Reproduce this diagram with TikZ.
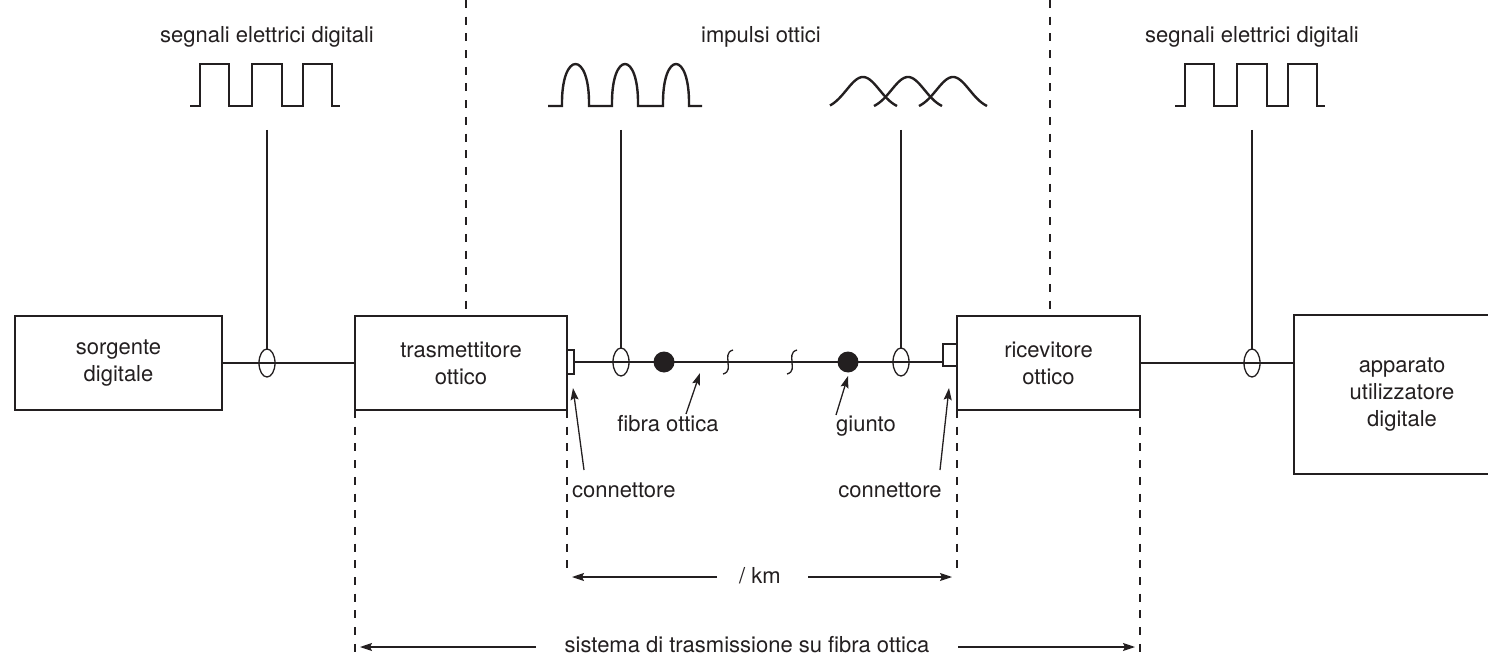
\documentclass[tikz,border=0pt]{standalone}
\usepackage{fontspec}
\setmainfont{TeX Gyre Heros}
\usetikzlibrary{shapes.geometric,arrows.meta}
\definecolor{ink}{HTML}{231F20}
\begin{document}
\begin{tikzpicture}[x=1pt,y=-1pt,
  every node/.style={font=\fontsize{22}{27}\selectfont, text=ink},
  blk/.style={draw=ink, line width=1.3pt, align=center, inner sep=0pt, outer sep=0pt},
  wire/.style={draw=ink, line width=1.3pt},
  wave/.style={draw=ink, line width=2.4pt, line join=miter},
  guide/.style={draw=ink, line width=1.2pt, dash pattern=on 8pt off 8.7pt},
  tap/.style={ellipse, draw=ink, line width=1.3pt, minimum width=16pt, minimum height=28pt, inner sep=0pt, outer sep=0pt},
  joint/.style={circle, fill=ink, minimum size=21pt, inner sep=0pt, outer sep=0pt},
  plug/.style={rectangle, draw=ink, line width=1.2pt, inner sep=0pt, outer sep=0pt},
  pointer/.style={draw=ink, line width=1.3pt, -{Stealth[length=12pt,width=8pt,inset=2pt]}},
  lbl/.style={inner sep=0pt, anchor=base},
  brk/.style={draw=ink, line width=1.3pt}
]
\useasboundingbox (0,0) rectangle (1488,655);
\clip (0,0) rectangle (1488,655);

% blocks of the chain
\node[blk, minimum width=207pt, minimum height=94pt] (src) at (118.5,363) {sorgente\\digitale};
\node[blk, minimum width=212pt, minimum height=94pt] (tx) at (461,363) {trasmettitore\\ottico};
\node[blk, minimum width=183pt, minimum height=94pt] (rx) at (1048.5,363) {ricevitore\\ottico};
\node[blk, minimum width=216pt, minimum height=159pt] (usr) at (1402,394.5) {apparato\\utilizzatore\\digitale};

% connectors at the fibre ends
\node[plug, minimum width=7pt, minimum height=24pt] (p1) at (570.5,362) {};
\node[plug, minimum width=14pt, minimum height=22pt] (p2) at (950,355) {};

% electrical links
\draw[wire] (src.east) -- (tx.west);
\draw[wire] (rx.east |- 0,363) -- (usr.west |- 0,363);

% fibre
\draw[wire] (p1.east) -- (p1.east -| p2.west);

% signal probes
\node[tap] (t1) at (267,363) {};
\node[tap] (t2) at (621,362) {};
\node[tap] (t3) at (901,362) {};
\node[tap] (t4) at (1252,363) {};
\coordinate (w1) at (267,130);
\coordinate (w2) at (621,130);
\coordinate (w3) at (901,130);
\coordinate (w4) at (1252,130);
\draw[wire] (w1) -- (t1.north);
\draw[wire] (w2) -- (t2.north);
\draw[wire] (w3) -- (t3.north);
\draw[wire] (w4) -- (t4.north);

% splices
\node[joint] (j1) at (664,362) {};
\node[joint] (j2) at (848,362) {};

% breaks in the fibre
\draw[brk] (733,350) .. controls (726,352) and (728,358) .. (728,362) .. controls (728,367) and (730,372) .. (723,374);
\draw[brk] (797,350) .. controls (790,352) and (792,358) .. (792,362) .. controls (792,367) and (794,372) .. (787,374);

% digital electrical signals
\draw[wave] (190,106) -- (200,106) -- (200,64) -- (229,64) -- (229,106) -- (252,106) -- (252,64) -- (282,64) -- (282,106) -- (303,106) -- (303,64) -- (332,64) -- (332,106) -- (340,106);
\begin{scope}[xshift=985pt]
\draw[wave] (190,106) -- (200,106) -- (200,64) -- (229,64) -- (229,106) -- (252,106) -- (252,64) -- (282,64) -- (282,106) -- (303,106) -- (303,64) -- (332,64) -- (332,106) -- (340,106);
\end{scope}

% optical pulses at the transmitter
\draw[wave] (548,106) -- (562,106) .. controls (561,50) and (590,50) .. (589,106) -- (612,106) .. controls (611,50) and (639,50) .. (638,106) -- (663,106) .. controls (662,50) and (690,50) .. (689,106) -- (702,106);

% dispersed pulses at the receiver
\draw[wave, line join=round] plot[domain=830:897, samples=40] (\x, {110-33*exp(-((\x-863)/23.4)^2)});
\draw[wave, line join=round] plot[domain=874:942, samples=40] (\x, {110-33*exp(-((\x-908)/23.4)^2)});
\draw[wave, line join=round] plot[domain=919:987, samples=40] (\x, {110-33*exp(-((\x-953)/23.4)^2)});

% section boundaries
\coordinate (d1) at (466,0);
\coordinate (d2) at (1050,0);
\draw[guide] (d1) -- (d1 |- tx.north);
\draw[guide] (d2) -- (d2 |- rx.north);
\coordinate (e1) at (567,570);
\coordinate (e2) at (957,570);
\coordinate (e3) at (355,655);
\coordinate (e4) at (1140,655);
\draw[guide] (tx.south east) -- (e1);
\draw[guide] (rx.south west) -- (e2);
\draw[guide] (tx.south west) -- (e3);
\draw[guide] (rx.south east) -- (e4);

% top captions
\node[lbl] (c1) at (267,43) {segnali elettrici digitali};
\node[lbl] (c2) at (761,43) {impulsi ottici};
\node[lbl] (c3) at (1252,43) {segnali elettrici digitali};

% part captions with pointers
\node[lbl] (fo) at (668,431) {fibra ottica};
\node[lbl] (gi) at (866,431) {giunto};
\node[lbl, anchor=base west] (k1) at (572,497) {connettore};
\node[lbl] (k2) at (890,497) {connettore};
\coordinate (fa) at (686,414);
\coordinate (fb) at (700,373);
\coordinate (ga) at (836,415);
\coordinate (gb) at (848,376);
\coordinate (ka) at (584,470);
\coordinate (kb) at (573,388);
\coordinate (la) at (940,470);
\coordinate (lb) at (949,388);
\draw[pointer] (fa) -- (fb);
\draw[pointer] (ga) -- (gb);
\draw[pointer] (ka) -- (kb);
\draw[pointer] (la) -- (lb);

% spans
\node[lbl] (km) at (760,583) {/ km};
\coordinate (m1) at (717,577);
\coordinate (m2) at (572,577);
\coordinate (m3) at (808,577);
\coordinate (m4) at (952,577);
\draw[pointer] (m1) -- (m2);
\draw[pointer] (m3) -- (m4);

\node[lbl] (sys) at (747,652) {sistema di trasmissione su fibra ottica};
\coordinate (s1) at (536,647);
\coordinate (s2) at (360,647);
\coordinate (s3) at (958,647);
\coordinate (s4) at (1135,647);
\draw[pointer] (s1) -- (s2);
\draw[pointer] (s3) -- (s4);
\end{tikzpicture}
\end{document}
